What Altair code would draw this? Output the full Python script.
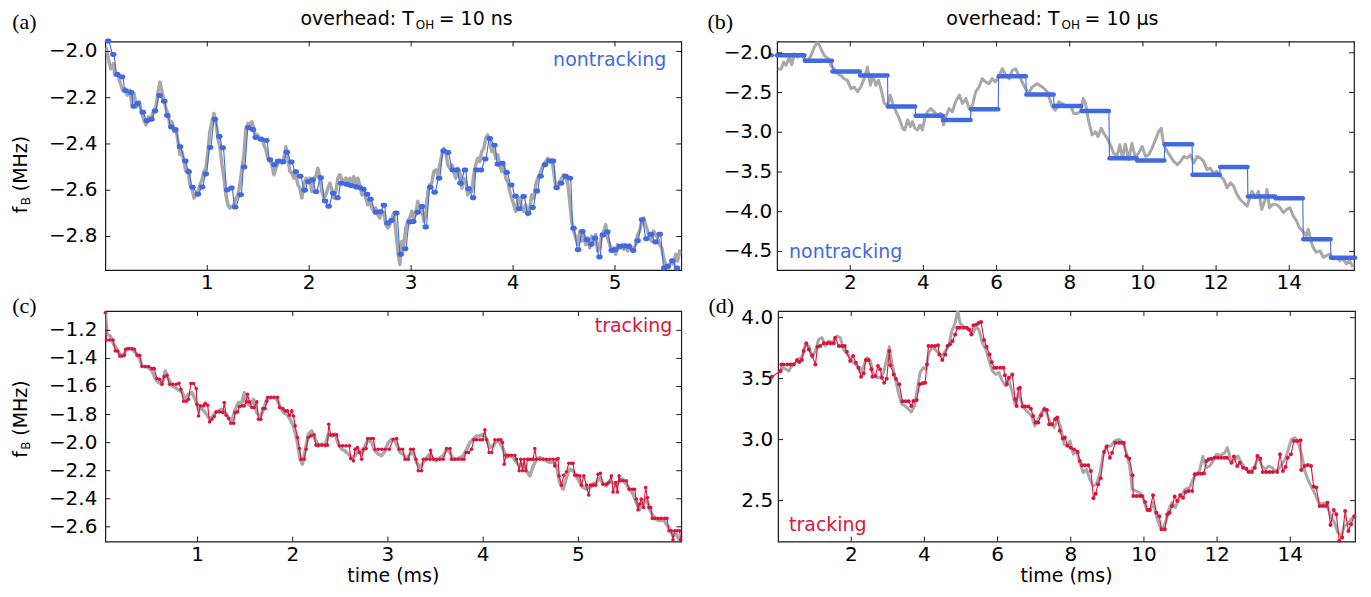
import altair as alt
import pandas as pd

FONT = "DejaVu Sans"
SERIF = "Liberation Serif"
BLUE = "#4169e1"
RED = "#dc143c"
GRAY = "#a8a8a8"
INK = "#1a1a1a"

W_L, W_R = 577, 578
H_T, H_B = 229, 231

# ---------------- tick values ----------------
a_xticks = [1, 2, 3, 4, 5]
a_yticks = [-2.8, -2.6, -2.4, -2.2, -2.0]
b_xticks = [2, 4, 6, 8, 10, 12, 14]
b_yticks = [-4.5, -4.0, -3.5, -3.0, -2.5, -2.0]
c_xticks = [1, 2, 3, 4, 5]
c_yticks = [-2.6, -2.4, -2.2, -2.0, -1.8, -1.6, -1.4, -1.2]
d_xticks = [2, 4, 6, 8, 10, 12, 14]
d_yticks = [2.5, 3.0, 3.5, 4.0]

a_xdom, a_ydom = [0.0, 5.65], [-2.945, -1.957]
b_xdom, b_ydom = [0.0, 15.77], [-4.735, -1.857]
c_xdom, c_ydom = [0.032, 6.08], [-2.705, -1.062]
d_xdom, d_ydom = [0.0, 15.77], [2.164, 4.055]

# ---------------- panel (a): nontracking, T_OH = 10 ns ----------------
a_true = [(0.007,-1.982),(0.03,-2.032),(0.053,-2.075),(0.079,-2.053),(0.095,-2.103),(0.118,-2.096),(0.144,-2.132),(0.17,-2.168),(0.193,-2.161),(0.216,-2.189),(0.242,-2.168),(0.258,-2.225),(0.281,-2.182),(0.307,-2.24),(0.334,-2.218),(0.357,-2.268),(0.379,-2.297),(0.399,-2.318),(0.422,-2.283),(0.445,-2.297),(0.471,-2.261),(0.497,-2.24),(0.52,-2.168),(0.536,-2.132),(0.556,-2.175),(0.575,-2.211),(0.595,-2.247),(0.618,-2.275),(0.634,-2.326),(0.654,-2.304),(0.673,-2.347),(0.693,-2.333),(0.713,-2.39),(0.732,-2.447),(0.752,-2.433),(0.772,-2.476),(0.791,-2.519),(0.811,-2.512),(0.83,-2.577),(0.85,-2.591),(0.87,-2.634),(0.889,-2.62),(0.909,-2.605),(0.928,-2.577),(0.948,-2.555),(0.968,-2.519),(0.987,-2.505),(1.007,-2.433),(1.026,-2.347),(1.046,-2.304),(1.066,-2.268),(1.085,-2.304),(1.105,-2.376),(1.124,-2.412),(1.144,-2.49),(1.164,-2.548),(1.183,-2.62),(1.203,-2.663),(1.222,-2.677),(1.242,-2.67),(1.262,-2.663),(1.281,-2.634),(1.301,-2.62),(1.32,-2.577),(1.34,-2.505),(1.36,-2.447),(1.379,-2.333),(1.399,-2.311),(1.418,-2.318),(1.438,-2.304),(1.458,-2.333),(1.477,-2.376),(1.497,-2.361),(1.516,-2.383),(1.536,-2.376),(1.556,-2.404),(1.575,-2.426),(1.595,-2.462),(1.614,-2.469),(1.634,-2.49),(1.654,-2.533),(1.673,-2.505),(1.693,-2.483),(1.713,-2.469),(1.732,-2.483),(1.752,-2.462),(1.771,-2.412),(1.791,-2.462),(1.811,-2.519),(1.83,-2.526),(1.85,-2.548),(1.869,-2.533),(1.889,-2.577),(1.909,-2.591),(1.928,-2.634),(1.948,-2.577),(1.968,-2.548),(1.987,-2.562),(2.007,-2.548),(2.026,-2.605),(2.046,-2.548),(2.066,-2.541),(2.085,-2.505),(2.105,-2.548),(2.125,-2.605),(2.144,-2.634),(2.164,-2.62),(2.183,-2.591),(2.203,-2.569),(2.223,-2.598),(2.242,-2.634),(2.262,-2.605),(2.281,-2.548),(2.301,-2.533),(2.321,-2.555),(2.34,-2.562),(2.36,-2.548),(2.379,-2.569),(2.399,-2.548),(2.419,-2.577),(2.438,-2.541),(2.458,-2.591),(2.477,-2.548),(2.497,-2.577),(2.517,-2.62),(2.536,-2.605),(2.556,-2.634),(2.575,-2.663),(2.595,-2.648),(2.615,-2.677),(2.634,-2.691),(2.654,-2.677),(2.673,-2.706),(2.693,-2.72),(2.713,-2.691),(2.732,-2.698),(2.752,-2.749),(2.771,-2.763),(2.791,-2.749),(2.811,-2.72),(2.83,-2.698),(2.85,-2.777),(2.873,-2.877),(2.889,-2.921),(2.909,-2.82),(2.928,-2.835),(2.948,-2.763),(2.967,-2.734),(2.987,-2.72),(3.007,-2.691),(3.026,-2.72),(3.046,-2.698),(3.066,-2.648),(3.085,-2.691),(3.105,-2.677),(3.124,-2.734),(3.144,-2.706),(3.164,-2.605),(3.183,-2.577),(3.203,-2.569),(3.222,-2.519),(3.242,-2.512),(3.262,-2.533),(3.281,-2.49),(3.301,-2.447),(3.321,-2.419),(3.34,-2.433),(3.36,-2.49),(3.379,-2.505),(3.399,-2.49),(3.419,-2.519),(3.438,-2.548),(3.458,-2.505),(3.477,-2.519),(3.497,-2.591),(3.516,-2.548),(3.536,-2.562),(3.556,-2.62),(3.575,-2.591),(3.595,-2.605),(3.614,-2.533),(3.634,-2.49),(3.654,-2.462),(3.673,-2.476),(3.693,-2.433),(3.713,-2.419),(3.732,-2.376),(3.752,-2.361),(3.771,-2.39),(3.791,-2.433),(3.811,-2.419),(3.83,-2.462),(3.85,-2.447),(3.869,-2.49),(3.889,-2.519),(3.909,-2.49),(3.928,-2.548),(3.948,-2.562),(3.967,-2.605),(3.987,-2.634),(4.007,-2.663),(4.026,-2.691),(4.046,-2.648),(4.066,-2.634),(4.085,-2.677),(4.105,-2.691),(4.124,-2.663),(4.144,-2.706),(4.164,-2.677),(4.183,-2.62),(4.203,-2.634),(4.222,-2.577),(4.242,-2.548),(4.262,-2.533),(4.281,-2.505),(4.301,-2.49),(4.321,-2.476),(4.34,-2.462),(4.36,-2.476),(4.379,-2.469),(4.399,-2.519),(4.419,-2.591),(4.438,-2.577),(4.458,-2.562),(4.477,-2.548),(4.497,-2.533),(4.517,-2.548),(4.536,-2.569),(4.556,-2.648),(4.575,-2.734),(4.595,-2.777),(4.615,-2.806),(4.634,-2.835),(4.654,-2.777),(4.673,-2.82),(4.693,-2.792),(4.713,-2.835),(4.732,-2.806),(4.752,-2.849),(4.771,-2.799),(4.791,-2.82),(4.811,-2.792),(4.83,-2.863),(4.85,-2.849),(4.87,-2.792),(4.889,-2.777),(4.909,-2.749),(4.928,-2.806),(4.948,-2.835),(4.967,-2.863),(4.987,-2.849),(5.007,-2.877),(5.026,-2.835),(5.046,-2.849),(5.066,-2.835),(5.085,-2.856),(5.105,-2.835),(5.124,-2.863),(5.144,-2.835),(5.164,-2.856),(5.183,-2.849),(5.203,-2.835),(5.222,-2.792),(5.242,-2.777),(5.262,-2.734),(5.281,-2.72),(5.301,-2.749),(5.321,-2.777),(5.34,-2.806),(5.36,-2.82),(5.379,-2.777),(5.399,-2.792),(5.418,-2.806),(5.438,-2.835),(5.458,-2.849),(5.477,-2.892),(5.497,-2.921),(5.516,-2.95),(5.536,-2.921),(5.556,-2.906),(5.575,-2.921),(5.595,-2.877),(5.614,-2.906),(5.634,-2.863),(5.654,-2.877)]

a_est = [(0.02,-1.955),(0.07,-2.013),(0.11,-2.10),(0.157,-2.11),(0.19,-2.17),(0.245,-2.178),(0.27,-2.237),(0.31,-2.225),(0.36,-2.263),(0.40,-2.30),(0.445,-2.293),(0.48,-2.258),(0.524,-2.19),(0.57,-2.215),(0.60,-2.277),(0.64,-2.327),(0.68,-2.339),(0.725,-2.412),(0.777,-2.474),(0.81,-2.52),(0.847,-2.587),(0.90,-2.617),(0.943,-2.586),(0.978,-2.53),(1.02,-2.415),(1.066,-2.293),(1.11,-2.368),(1.144,-2.416),(1.188,-2.599),(1.23,-2.59),(1.266,-2.673),(1.32,-2.619),(1.354,-2.50),(1.397,-2.33),(1.44,-2.337),(1.467,-2.372),(1.52,-2.38),(1.572,-2.385),(1.607,-2.468),(1.65,-2.49),(1.686,-2.475),(1.738,-2.477),(1.773,-2.436),(1.817,-2.478),(1.86,-2.52),(1.904,-2.54),(1.948,-2.60),(1.983,-2.563),(2.026,-2.556),(2.06,-2.606),(2.105,-2.546),(2.148,-2.646),(2.183,-2.669),(2.227,-2.613),(2.27,-2.632),(2.306,-2.57),(2.358,-2.574),(2.40,-2.58),(2.445,-2.584),(2.49,-2.589),(2.524,-2.596),(2.56,-2.617),(2.594,-2.639),(2.646,-2.695),(2.69,-2.693),(2.725,-2.665),(2.76,-2.742),(2.80,-2.731),(2.847,-2.698),(2.89,-2.877),(2.934,-2.853),(2.978,-2.737),(3.013,-2.735),(3.057,-2.695),(3.10,-2.67),(3.135,-2.759),(3.18,-2.587),(3.223,-2.609),(3.266,-2.548),(3.31,-2.43),(3.354,-2.437),(3.40,-2.513),(3.44,-2.513),(3.476,-2.57),(3.52,-2.513),(3.555,-2.594),(3.60,-2.632),(3.633,-2.513),(3.677,-2.513),(3.72,-2.465),(3.764,-2.376),(3.81,-2.405),(3.843,-2.488),(3.886,-2.483),(3.93,-2.523),(3.974,-2.577),(4.017,-2.626),(4.052,-2.68),(4.096,-2.627),(4.14,-2.70),(4.183,-2.675),(4.227,-2.603),(4.262,-2.54),(4.306,-2.49),(4.35,-2.474),(4.384,-2.474),(4.42,-2.589),(4.463,-2.57),(4.507,-2.54),(4.55,-2.548),(4.585,-2.764),(4.63,-2.857),(4.672,-2.778),(4.716,-2.814),(4.76,-2.833),(4.795,-2.807),(4.84,-2.889),(4.873,-2.793),(4.917,-2.78),(4.96,-2.86),(4.996,-2.857),(5.04,-2.843),(5.083,-2.841),(5.127,-2.843),(5.17,-2.86),(5.214,-2.818),(5.258,-2.728),(5.30,-2.81),(5.345,-2.79),(5.39,-2.824),(5.432,-2.79),(5.476,-2.936),(5.51,-2.929),(5.555,-2.905),(5.60,-2.936)]

# ---------------- panel (b): nontracking, T_OH = 10 us ----------------
b_true = [(0.018,-2.20),(0.11,-2.208),(0.18,-2.117),(0.245,-2.158),(0.336,-2.054),(0.40,-2.15),(0.473,-2.013),(0.564,-2.054),(0.655,-2.025),(0.745,-2.075),(0.837,-2.108),(0.927,-2.033),(1.018,-1.929),(1.11,-1.858),(1.2,-1.95),(1.29,-2.033),(1.40,-2.075),(1.47,-2.158),(1.56,-2.2),(1.65,-2.263),(1.74,-2.283),(1.83,-2.325),(1.92,-2.346),(2.02,-2.45),(2.11,-2.43),(2.20,-2.49),(2.29,-2.43),(2.38,-2.325),(2.47,-2.179),(2.55,-2.408),(2.61,-2.283),(2.70,-2.408),(2.77,-2.346),(2.84,-2.45),(2.93,-2.638),(3.02,-2.66),(3.09,-2.533),(3.16,-2.638),(3.25,-2.742),(3.34,-2.825),(3.43,-2.95),(3.49,-2.971),(3.57,-2.846),(3.64,-2.93),(3.70,-2.867),(3.77,-2.95),(3.84,-2.971),(3.91,-2.908),(3.97,-2.971),(4.04,-2.825),(4.11,-2.742),(4.20,-2.70),(4.29,-2.742),(4.38,-2.783),(4.47,-2.763),(4.55,-2.908),(4.61,-2.804),(4.70,-2.70),(4.79,-2.742),(4.88,-2.617),(4.98,-2.533),(5.07,-2.638),(5.16,-2.575),(5.25,-2.70),(5.34,-2.66),(5.43,-2.49),(5.52,-2.43),(5.61,-2.325),(5.70,-2.367),(5.79,-2.388),(5.88,-2.325),(5.97,-2.367),(6.06,-2.304),(6.16,-2.20),(6.25,-2.283),(6.34,-2.325),(6.43,-2.221),(6.52,-2.20),(6.61,-2.283),(6.70,-2.367),(6.79,-2.45),(6.88,-2.513),(6.97,-2.43),(7.11,-2.388),(7.25,-2.43),(7.39,-2.49),(7.52,-2.68),(7.61,-2.721),(7.70,-2.617),(7.79,-2.638),(7.93,-2.68),(8.02,-2.66),(8.11,-2.763),(8.20,-2.763),(8.29,-2.742),(8.37,-2.575),(8.43,-2.638),(8.52,-2.867),(8.61,-3.033),(8.70,-2.992),(8.77,-3.054),(8.86,-2.95),(8.93,-3.013),(9.02,-3.075),(9.11,-3.158),(9.20,-3.263),(9.29,-3.304),(9.37,-3.158),(9.44,-3.325),(9.52,-3.15),(9.61,-3.346),(9.70,-3.138),(9.79,-3.317),(9.88,-3.263),(9.98,-3.179),(10.07,-3.304),(10.16,-3.283),(10.25,-3.20),(10.34,-3.096),(10.43,-2.992),(10.50,-2.95),(10.57,-3.158),(10.66,-3.242),(10.75,-3.304),(10.84,-3.367),(10.94,-3.408),(11.03,-3.367),(11.12,-3.304),(11.21,-3.325),(11.30,-3.283),(11.39,-3.388),(11.48,-3.304),(11.57,-3.325),(11.66,-3.367),(11.75,-3.471),(11.84,-3.45),(11.93,-3.513),(12.02,-3.492),(12.12,-3.554),(12.21,-3.596),(12.30,-3.70),(12.39,-3.638),(12.48,-3.679),(12.57,-3.783),(12.66,-3.846),(12.75,-3.888),(12.85,-3.929),(12.92,-3.825),(12.98,-3.742),(13.07,-3.825),(13.16,-3.742),(13.25,-3.971),(13.33,-3.867),(13.39,-3.721),(13.46,-3.95),(13.55,-3.908),(13.64,-3.908),(13.75,-3.95),(13.84,-4.013),(13.93,-3.971),(14.02,-3.95),(14.11,-4.054),(14.20,-4.117),(14.27,-4.20),(14.37,-4.242),(14.46,-4.304),(14.52,-4.221),(14.58,-4.346),(14.65,-4.45),(14.74,-4.513),(14.84,-4.492),(14.93,-4.575),(15.02,-4.554),(15.11,-4.533),(15.20,-4.596),(15.29,-4.575),(15.38,-4.617),(15.47,-4.596),(15.56,-4.658),(15.65,-4.617),(15.74,-4.70)]

# estimate held over each measurement window: (start, end, value)
b_est = [(0.0,0.745,-2.03),(0.757,1.50,-2.10),(1.514,2.26,-2.235),(2.271,3.02,-2.285),(3.028,3.775,-2.675),(3.785,4.53,-2.792),(4.542,5.29,-2.846),(5.299,6.045,-2.709),(6.056,6.80,-2.295),(6.813,7.56,-2.524),(7.57,8.315,-2.668),(8.327,9.07,-2.733),(9.084,9.83,-3.327),(9.841,10.585,-3.357),(10.598,11.345,-3.152),(11.355,12.10,-3.536),(12.112,12.86,-3.436),(12.869,13.615,-3.808),(13.626,14.37,-3.83),(14.383,15.13,-4.346),(15.14,15.80,-4.581)]
b_pre = (-0.15, -2.03)

# ---------------- panel (c): tracking, T_OH = 10 ns ----------------
c_true = [(0.032,-1.074),(0.05,-1.228),(0.085,-1.24),(0.12,-1.30),(0.155,-1.335),(0.19,-1.383),(0.225,-1.371),(0.26,-1.33),(0.312,-1.335),(0.358,-1.364),(0.393,-1.402),(0.417,-1.454),(0.452,-1.458),(0.487,-1.466),(0.522,-1.489),(0.557,-1.544),(0.592,-1.572),(0.627,-1.584),(0.662,-1.489),(0.697,-1.549),(0.732,-1.596),(0.767,-1.608),(0.802,-1.625),(0.837,-1.639),(0.871,-1.691),(0.906,-1.655),(0.941,-1.644),(0.976,-1.691),(1.011,-1.762),(1.046,-1.757),(1.081,-1.786),(1.116,-1.822),(1.151,-1.822),(1.186,-1.786),(1.221,-1.774),(1.256,-1.762),(1.291,-1.786),(1.326,-1.822),(1.361,-1.845),(1.396,-1.762),(1.431,-1.715),(1.466,-1.715),(1.494,-1.644),(1.518,-1.715),(1.553,-1.738),(1.588,-1.691),(1.623,-1.786),(1.658,-1.822),(1.693,-1.762),(1.728,-1.691),(1.763,-1.679),(1.798,-1.679),(1.833,-1.691),(1.868,-1.743),(1.903,-1.786),(1.938,-1.798),(1.973,-1.833),(2.008,-1.881),(2.043,-1.976),(2.078,-2.118),(2.102,-2.154),(2.13,-2.059),(2.165,-1.94),(2.20,-1.916),(2.235,-1.976),(2.27,-2.023),(2.305,-2.011),(2.34,-2.023),(2.375,-1.94),(2.41,-1.952),(2.445,-1.94),(2.48,-2.011),(2.515,-2.047),(2.55,-2.059),(2.584,-2.082),(2.619,-2.106),(2.654,-2.094),(2.689,-2.047),(2.724,-2.082),(2.759,-2.023),(2.794,-1.976),(2.829,-1.999),(2.864,-2.059),(2.899,-2.082),(2.934,-2.094),(2.969,-2.059),(3.004,-1.999),(3.039,-1.976),(3.074,-1.987),(3.126,-2.07),(3.161,-2.082),(3.196,-2.118),(3.231,-2.082),(3.266,-2.07),(3.301,-2.142),(3.336,-2.177),(3.371,-2.142),(3.406,-2.106),(3.441,-2.082),(3.476,-2.118),(3.511,-2.13),(3.546,-2.106),(3.581,-2.094),(3.616,-2.047),(3.651,-2.07),(3.686,-2.118),(3.721,-2.118),(3.756,-2.106),(3.791,-2.094),(3.826,-2.047),(3.86,-1.999),(3.895,-1.976),(3.93,-1.952),(3.965,-1.952),(4.0,-1.94),(4.035,-1.976),(4.07,-2.035),(4.105,-2.023),(4.14,-1.987),(4.175,-1.999),(4.21,-2.047),(4.245,-2.106),(4.28,-2.094),(4.315,-2.106),(4.35,-2.142),(4.385,-2.166),(4.42,-2.154),(4.455,-2.201),(4.49,-2.237),(4.525,-2.166),(4.56,-2.118),(4.595,-2.106),(4.63,-2.118),(4.665,-2.13),(4.70,-2.142),(4.735,-2.137),(4.77,-2.166),(4.804,-2.284),(4.839,-2.332),(4.874,-2.249),(4.909,-2.189),(4.944,-2.201),(4.979,-2.237),(5.014,-2.284),(5.049,-2.32),(5.084,-2.332),(5.119,-2.32),(5.154,-2.296),(5.189,-2.284),(5.224,-2.249),(5.259,-2.296),(5.294,-2.308),(5.329,-2.272),(5.364,-2.284),(5.399,-2.308),(5.434,-2.261),(5.469,-2.261),(5.504,-2.296),(5.539,-2.332),(5.574,-2.367),(5.608,-2.426),(5.643,-2.474),(5.678,-2.426),(5.713,-2.403),(5.748,-2.474),(5.783,-2.521),(5.818,-2.545),(5.853,-2.557),(5.888,-2.545),(5.923,-2.581),(5.958,-2.616),(5.993,-2.664),(6.028,-2.652),(6.063,-2.699)]

c_est = [(0.032,-1.075),(0.043,-1.269),(0.078,-1.269),(0.113,-1.269),(0.137,-1.347),(0.162,-1.347),(0.183,-1.383),(0.207,-1.383),(0.232,-1.378),(0.246,-1.335),(0.277,-1.33),(0.312,-1.33),(0.337,-1.335),(0.365,-1.378),(0.393,-1.378),(0.417,-1.458),(0.452,-1.458),(0.487,-1.458),(0.522,-1.473),(0.546,-1.473),(0.574,-1.544),(0.602,-1.549),(0.627,-1.584),(0.651,-1.53),(0.679,-1.52),(0.707,-1.584),(0.742,-1.584),(0.777,-1.584),(0.805,-1.577),(0.826,-1.62),(0.854,-1.705),(0.882,-1.705),(0.906,-1.691),(0.931,-1.579),(0.959,-1.579),(0.987,-1.615),(0.994,-1.727),(1.011,-1.81),(1.029,-1.738),(1.064,-1.738),(1.081,-1.719),(1.106,-1.734),(1.127,-1.852),(1.151,-1.833),(1.176,-1.814),(1.197,-1.781),(1.232,-1.781),(1.267,-1.786),(1.281,-1.715),(1.301,-1.805),(1.326,-1.829),(1.35,-1.862),(1.378,-1.862),(1.396,-1.786),(1.42,-1.781),(1.441,-1.743),(1.466,-1.738),(1.49,-1.738),(1.511,-1.71),(1.525,-1.655),(1.546,-1.71),(1.571,-1.75),(1.595,-1.75),(1.623,-1.71),(1.64,-1.833),(1.665,-1.833),(1.686,-1.757),(1.71,-1.757),(1.728,-1.705),(1.738,-1.677),(1.77,-1.677),(1.805,-1.677),(1.84,-1.677),(1.861,-1.75),(1.896,-1.757),(1.92,-1.774),(1.945,-1.774),(1.966,-1.805),(1.99,-1.774),(2.008,-1.81),(2.025,-1.881),(2.05,-1.964),(2.071,-2.042),(2.088,-2.118),(2.12,-2.118),(2.14,-2.047),(2.162,-1.964),(2.19,-1.952),(2.224,-1.945),(2.245,-2.018),(2.27,-2.018),(2.305,-2.018),(2.34,-2.018),(2.364,-2.018),(2.378,-1.869),(2.399,-1.945),(2.427,-1.945),(2.462,-1.945),(2.49,-2.023),(2.525,-2.023),(2.56,-2.023),(2.595,-2.023),(2.609,-2.113),(2.637,-2.13),(2.654,-2.047),(2.679,-2.035),(2.70,-2.07),(2.724,-2.118),(2.742,-2.047),(2.77,-2.042),(2.787,-1.971),(2.819,-1.971),(2.847,-1.971),(2.864,-2.047),(2.899,-2.047),(2.934,-2.047),(2.969,-2.047),(3.014,-2.047),(3.056,-1.976),(3.091,-1.971),(3.119,-2.047),(3.154,-2.047),(3.179,-2.118),(3.214,-2.118),(3.238,-2.047),(3.266,-2.047),(3.294,-2.118),(3.319,-2.201),(3.353,-2.201),(3.371,-2.118),(3.406,-2.118),(3.441,-2.118),(3.448,-2.054),(3.476,-2.118),(3.511,-2.118),(3.546,-2.118),(3.581,-2.118),(3.616,-2.042),(3.651,-2.042),(3.668,-2.118),(3.703,-2.118),(3.738,-2.118),(3.773,-2.118),(3.798,-2.118),(3.819,-2.07),(3.846,-2.07),(3.878,-2.047),(3.902,-1.98),(3.93,-1.98),(3.965,-1.98),(3.993,-1.98),(4.018,-1.909),(4.035,-1.98),(4.063,-2.07),(4.088,-2.07),(4.123,-1.98),(4.158,-1.98),(4.186,-1.98),(4.203,-1.999),(4.221,-2.154),(4.238,-2.09),(4.263,-2.09),(4.297,-2.09),(4.332,-2.09),(4.35,-2.118),(4.378,-2.201),(4.395,-2.118),(4.413,-2.201),(4.43,-2.118),(4.448,-2.201),(4.465,-2.118),(4.483,-2.118),(4.507,-2.118),(4.525,-2.118),(4.542,-2.042),(4.56,-2.118),(4.595,-2.118),(4.63,-2.118),(4.665,-2.118),(4.70,-2.118),(4.735,-2.118),(4.752,-2.166),(4.77,-2.118),(4.787,-2.113),(4.797,-2.237),(4.822,-2.303),(4.846,-2.232),(4.874,-2.208),(4.899,-2.147),(4.927,-2.147),(4.944,-2.147),(4.962,-2.232),(4.986,-2.232),(5.014,-2.237),(5.032,-2.303),(5.056,-2.237),(5.084,-2.303),(5.108,-2.374),(5.126,-2.303),(5.154,-2.303),(5.182,-2.303),(5.206,-2.225),(5.231,-2.218),(5.259,-2.296),(5.294,-2.296),(5.318,-2.284),(5.346,-2.237),(5.364,-2.351),(5.392,-2.284),(5.409,-2.351),(5.427,-2.237),(5.441,-2.272),(5.469,-2.272),(5.504,-2.272),(5.532,-2.332),(5.567,-2.332),(5.591,-2.332),(5.608,-2.403),(5.626,-2.479),(5.643,-2.438),(5.66,-2.403),(5.685,-2.462),(5.706,-2.32),(5.724,-2.391),(5.741,-2.462),(5.759,-2.462),(5.776,-2.54),(5.801,-2.54),(5.836,-2.54),(5.87,-2.54),(5.905,-2.54),(5.93,-2.54),(5.951,-2.628),(5.975,-2.628),(5.993,-2.692),(6.01,-2.628),(6.035,-2.628),(6.063,-2.628),(6.074,-2.692)]

# ---------------- panel (d): tracking, T_OH = 10 us ----------------
d_true = [(0.018,3.544),(0.15,3.59),(0.29,3.563),(0.38,3.604),(0.52,3.645),(0.66,3.686),(0.75,3.781),(0.84,3.768),(0.93,3.672),(1.02,3.727),(1.11,3.823),(1.20,3.836),(1.29,3.768),(1.38,3.809),(1.47,3.795),(1.61,3.85),(1.70,3.836),(1.79,3.74),(1.93,3.686),(2.06,3.631),(2.16,3.604),(2.25,3.549),(2.34,3.604),(2.43,3.672),(2.52,3.645),(2.61,3.535),(2.70,3.508),(2.79,3.508),(2.88,3.549),(2.97,3.658),(3.04,3.762),(3.11,3.631),(3.20,3.508),(3.29,3.385),(3.38,3.29),(3.47,3.276),(3.57,3.249),(3.64,3.227),(3.73,3.276),(3.82,3.44),(3.88,3.549),(3.97,3.59),(4.04,3.577),(4.11,3.699),(4.20,3.754),(4.29,3.74),(4.38,3.713),(4.48,3.686),(4.57,3.727),(4.66,3.768),(4.75,3.891),(4.84,3.959),(4.91,4.06),(4.97,3.959),(5.04,3.932),(5.11,3.918),(5.22,3.904),(5.31,3.863),(5.40,3.918),(5.49,3.904),(5.58,3.795),(5.68,3.74),(5.77,3.645),(5.86,3.563),(5.95,3.535),(6.04,3.549),(6.13,3.481),(6.22,3.44),(6.29,3.508),(6.38,3.413),(6.48,3.29),(6.57,3.385),(6.66,3.303),(6.75,3.249),(6.84,3.222),(6.93,3.194),(7.02,3.112),(7.11,3.167),(7.20,3.222),(7.28,3.262),(7.37,3.194),(7.46,3.126),(7.55,3.099),(7.64,3.167),(7.73,3.099),(7.82,2.96),(7.91,2.95),(7.98,2.99),(8.07,2.88),(8.16,2.907),(8.25,2.811),(8.34,2.729),(8.43,2.757),(8.52,2.675),(8.61,2.62),(8.70,2.634),(8.79,2.716),(8.89,2.88),(8.98,2.948),(9.10,2.948),(9.20,2.989),(9.31,3.003),(9.43,2.975),(9.52,2.893),(9.61,2.784),(9.68,2.593),(9.77,2.579),(9.89,2.566),(9.98,2.524),(10.07,2.429),(10.16,2.415),(10.25,2.484),(10.34,2.374),(10.43,2.292),(10.50,2.265),(10.59,2.32),(10.68,2.429),(10.77,2.484),(10.86,2.443),(10.95,2.511),(11.04,2.552),(11.13,2.593),(11.25,2.607),(11.34,2.675),(11.43,2.716),(11.52,2.743),(11.61,2.861),(11.71,2.77),(11.80,2.784),(11.89,2.825),(11.98,2.88),(12.10,2.872),(12.21,2.893),(12.28,2.934),(12.37,2.839),(12.46,2.825),(12.57,2.866),(12.66,2.811),(12.75,2.77),(12.84,2.743),(12.93,2.743),(13.04,2.784),(13.13,2.866),(13.22,2.784),(13.32,2.757),(13.41,2.784),(13.50,2.77),(13.59,2.743),(13.68,2.757),(13.77,2.798),(13.86,2.839),(13.95,2.921),(14.03,3.003),(14.13,3.016),(14.22,2.975),(14.32,2.866),(14.41,2.729),(14.50,2.661),(14.59,2.607),(14.68,2.552),(14.77,2.484),(14.86,2.47),(14.95,2.484),(15.04,2.429),(15.12,2.361),(15.21,2.32),(15.30,2.238),(15.39,2.21),(15.48,2.292),(15.57,2.306),(15.66,2.347),(15.75,2.374)]

d_est = [(-0.17,3.516),(0.064,3.563),(0.09,3.617),(0.15,3.617),(0.25,3.617),(0.34,3.617),(0.43,3.617),(0.52,3.653),(0.58,3.636),(0.65,3.653),(0.70,3.727),(0.77,3.79),(0.84,3.74),(0.93,3.69),(1.02,3.617),(1.08,3.762),(1.15,3.768),(1.25,3.79),(1.34,3.79),(1.43,3.79),(1.52,3.79),(1.56,3.836),(1.66,3.768),(1.75,3.768),(1.82,3.768),(1.88,3.72),(1.97,3.645),(2.05,3.686),(2.13,3.631),(2.20,3.59),(2.27,3.516),(2.34,3.544),(2.40,3.653),(2.47,3.653),(2.55,3.577),(2.58,3.516),(2.66,3.522),(2.73,3.604),(2.79,3.577),(2.84,3.508),(2.90,3.467),(2.97,3.50),(3.04,3.727),(3.07,3.609),(3.16,3.535),(3.22,3.50),(3.31,3.454),(3.40,3.315),(3.49,3.315),(3.57,3.315),(3.64,3.276),(3.70,3.317),(3.79,3.325),(3.87,3.454),(3.95,3.462),(4.02,3.467),(4.07,3.617),(4.11,3.768),(4.20,3.768),(4.29,3.768),(4.37,3.773),(4.41,3.699),(4.49,3.653),(4.57,3.699),(4.63,3.768),(4.70,3.782),(4.77,3.809),(4.84,3.863),(4.90,3.918),(4.97,3.918),(5.07,3.918),(5.16,3.918),(5.22,3.904),(5.28,3.863),(5.34,3.937),(5.43,3.945),(5.49,3.959),(5.55,3.964),(5.63,3.817),(5.70,3.762),(5.78,3.699),(5.84,3.636),(5.91,3.59),(5.97,3.59),(6.07,3.59),(6.16,3.59),(6.20,3.527),(6.25,3.454),(6.31,3.508),(6.40,3.535),(6.48,3.331),(6.52,3.276),(6.57,3.418),(6.61,3.426),(6.68,3.271),(6.75,3.271),(6.84,3.271),(6.91,3.254),(6.97,3.194),(7.04,3.14),(7.11,3.14),(7.19,3.20),(7.28,3.249),(7.35,3.243),(7.41,3.126),(7.49,3.126),(7.57,3.167),(7.63,3.181),(7.70,3.072),(7.78,3.009),(7.84,3.018),(7.91,2.95),(8.00,2.934),(8.09,2.92),(8.19,2.898),(8.25,2.825),(8.31,2.79),(8.39,2.79),(8.48,2.79),(8.55,2.743),(8.62,2.519),(8.68,2.557),(8.75,2.634),(8.82,2.683),(8.91,2.898),(8.98,2.943),(9.07,2.852),(9.13,2.893),(9.22,2.975),(9.32,2.975),(9.40,2.975),(9.45,2.975),(9.52,2.866),(9.60,2.846),(9.69,2.708),(9.71,2.538),(9.80,2.538),(9.89,2.538),(9.95,2.538),(10.03,2.489),(10.10,2.423),(10.16,2.423),(10.25,2.544),(10.34,2.40),(10.42,2.372),(10.48,2.265),(10.57,2.265),(10.64,2.386),(10.70,2.40),(10.77,2.455),(10.84,2.533),(10.91,2.497),(10.99,2.544),(11.07,2.524),(11.14,2.571),(11.22,2.579),(11.32,2.579),(11.39,2.716),(11.48,2.721),(11.57,2.721),(11.64,2.724),(11.71,2.825),(11.77,2.839),(11.84,2.844),(11.93,2.852),(12.02,2.852),(12.11,2.852),(12.20,2.852),(12.27,2.852),(12.39,2.811),(12.46,2.861),(12.55,2.784),(12.62,2.811),(12.71,2.77),(12.80,2.762),(12.86,2.735),(12.95,2.735),(13.03,2.77),(13.10,2.866),(13.18,2.844),(13.25,2.735),(13.34,2.735),(13.43,2.735),(13.52,2.735),(13.64,2.735),(13.72,2.88),(13.80,2.743),(13.87,2.776),(13.93,2.852),(14.02,2.88),(14.10,2.989),(14.19,2.989),(14.28,2.994),(14.30,2.751),(14.39,2.784),(14.48,2.792),(14.57,2.784),(14.64,2.615),(14.71,2.607),(14.80,2.456),(14.89,2.456),(14.98,2.456),(15.02,2.483),(15.10,2.30),(15.19,2.423),(15.26,2.388),(15.34,2.17),(15.42,2.197),(15.50,2.415),(15.59,2.251),(15.66,2.306),(15.75,2.372)]

A_HOLD = 0.016  # drawn length of each fast (10 ns overhead) estimate marker


# ---------------- helpers ----------------
def text(s, x, y, size, color="black", font=FONT, align="left", baseline="alphabetic", angle=0):
    kw = dict(align=align, baseline=baseline, font=font, fontSize=size, color=color)
    enc = dict(text="s:N", x=alt.value(x), y=alt.value(y))
    if angle:
        kw["angle"] = angle
        enc["angle"] = alt.value(angle)
    return alt.Chart(pd.DataFrame({"s": [s]})).mark_text(**kw).encode(**enc)


def tick_labels(H, xs, ys, xticks, yticks, ypad):
    xl = pd.DataFrame({"t": xticks, "s": [str(int(t)) for t in xticks]})
    yl = pd.DataFrame({"v": yticks, "s": [f"{v:.1f}".replace("-", "\u2212") for v in yticks]})
    xlab = alt.Chart(xl).mark_text(font=FONT, fontSize=20, color="black", align="center",
                                   baseline="top").encode(
        x=alt.X("t:Q", scale=xs, axis=None), y=alt.value(H + 3), text="s:N")
    ylab = alt.Chart(yl).mark_text(font=FONT, fontSize=20, color="black", align="right",
                                   baseline="middle").encode(
        y=alt.Y("v:Q", scale=ys, axis=None), x=alt.value(-ypad), text="s:N")
    return [xlab, ylab]


def inner_ticks(W, H, xs, ys, xticks, yticks):
    yt = pd.DataFrame({"v": yticks})
    xt = pd.DataFrame({"t": xticks})
    L = 5
    out = []
    for x1, x2 in [(0, L), (W - L, W)]:
        out.append(alt.Chart(yt).mark_rule(color=INK, strokeWidth=1).encode(
            y=alt.Y("v:Q", scale=ys, axis=None), x=alt.value(x1), x2=alt.value(x2)))
    for y1, y2 in [(0, L), (H - L, H)]:
        out.append(alt.Chart(xt).mark_rule(color=INK, strokeWidth=1).encode(
            x=alt.X("t:Q", scale=xs, axis=None), y=alt.value(y1), y2=alt.value(y2)))
    return out


def seg_layers(segs, color, bar_w, xs, ys, pre=None):
    sdf = pd.DataFrame(segs, columns=["t", "t2", "v"])
    path = [pre] if pre else []
    for t1, t2, v in segs:
        path += [(t1, v), (t2, v)]
    pdf = pd.DataFrame(path, columns=["t", "v"])
    pdf["i"] = range(len(pdf))
    thin = alt.Chart(pdf).mark_line(color=color, strokeWidth=1.1, clip=False).encode(
        x=alt.X("t:Q", scale=xs, axis=None), y=alt.Y("v:Q", scale=ys, axis=None), order="i:Q")
    bars = alt.Chart(sdf).mark_rule(color=color, strokeWidth=bar_w, strokeCap="round", clip=False).encode(
        x=alt.X("t:Q", scale=xs, axis=None), x2="t2:Q", y=alt.Y("v:Q", scale=ys, axis=None))
    out = [thin, bars]
    if pre:
        out.append(alt.Chart(pd.DataFrame([pre], columns=["t", "v"])).mark_circle(
            color=color, size=22, opacity=1, clip=False).encode(
            x=alt.X("t:Q", scale=xs, axis=None), y=alt.Y("v:Q", scale=ys, axis=None)))
    return out


def dot_layers(pts, color, size, xs, ys):
    df = pd.DataFrame(pts, columns=["t", "v"])
    df["i"] = range(len(df))
    line = alt.Chart(df).mark_line(color=color, strokeWidth=1.1, clip=False).encode(
        x=alt.X("t:Q", scale=xs, axis=None), y=alt.Y("v:Q", scale=ys, axis=None), order="i:Q")
    dots = alt.Chart(df).mark_circle(color=color, size=size, opacity=1, clip=False).encode(
        x=alt.X("t:Q", scale=xs, axis=None), y=alt.Y("v:Q", scale=ys, axis=None))
    return [line, dots]


def panel(W, H, xdom, ydom, xticks, yticks, truth, gray_w, est_fn, ypad, texts):
    xs = alt.Scale(domain=xdom, nice=False, zero=False)
    ys = alt.Scale(domain=ydom, nice=False, zero=False)
    tdf = pd.DataFrame(truth, columns=["t", "v"])
    tdf["i"] = range(len(tdf))
    gray = alt.Chart(tdf).mark_line(color=GRAY, strokeWidth=gray_w, clip=True, strokeJoin="round").encode(
        x=alt.X("t:Q", scale=xs, axis=None),
        y=alt.Y("v:Q", scale=ys, axis=None),
        order="i:Q")
    layers = ([gray] + est_fn(xs, ys) + inner_ticks(W, H, xs, ys, xticks, yticks)
              + tick_labels(H, xs, ys, xticks, yticks, ypad) + texts)
    return alt.layer(*layers).properties(width=W, height=H)


def ytitle(fy, by, my):
    return [text("f", -84, fy, 19, angle=270, baseline="middle"),
            text("B", -79, by, 12, angle=270, baseline="middle"),
            text("(MHz)", -84, my, 19, angle=270, baseline="middle")]


def title(xr, unit):
    return [text("overhead: T", xr, -17, 19, align="right"),
            text("OH", xr + 2, -13, 12),
            text("= 10 " + unit, xr + 25, -17, 19)]


a_segs = [(t, t + A_HOLD, v) for t, v in a_est]

pa = panel(W_L, H_T, a_xdom, a_ydom, a_xticks, a_yticks, a_true, 3.5,
           lambda xs, ys: seg_layers(a_segs, BLUE, 5, xs, ys), 8,
           title(309, "ns") + ytitle(172, 164, 150) + [
               text("(a)", -81, -20, 22, font=SERIF, align="center", baseline="middle"),
               text("nontracking", 562, 24.5, 19, color=BLUE, align="right")])

pb = panel(W_R, H_T, b_xdom, b_ydom, b_xticks, b_yticks, b_true, 3,
           lambda xs, ys: seg_layers(b_est, BLUE, 4.5, xs, ys, pre=b_pre), 5,
           title(283, "μs") + [
               text("(b)", -57, -20, 22, font=SERIF, align="center", baseline="middle"),
               text("nontracking", 12, 217, 19, color=BLUE)])

pc = panel(W_L, H_B, c_xdom, c_ydom, c_xticks, c_yticks, c_true, 3.5,
           lambda xs, ys: dot_layers(c_est, RED, 13, xs, ys), 8,
           ytitle(147, 139, 125) + [
               text("(c)", -81, -5, 22, font=SERIF, align="center", baseline="middle"),
               text("tracking", 568, 21, 19, color=RED, align="right"),
               text("time (ms)", W_L / 2, H_B + 26, 19, align="center", baseline="top")])

pdd = panel(W_R, H_B, d_xdom, d_ydom, d_xticks, d_yticks, d_true, 3,
            lambda xs, ys: dot_layers(d_est, RED, 16, xs, ys), 5,
            [text("(d)", -57, -5, 22, font=SERIF, align="center", baseline="middle"),
             text("tracking", 11, 220, 19, color=RED),
             text("time (ms)", W_R / 2, H_B + 26, 19, align="center", baseline="top")])

top = alt.hconcat(pa, pb, spacing=23)
bottom = alt.hconcat(pc, pdd, spacing=23)

chart = alt.vconcat(top, bottom, spacing=0).properties(
    padding={"left": 3.5, "top": 0, "right": 5, "bottom": 5},
    background="white",
).configure_view(stroke=INK, strokeWidth=1.2)

chart.save("out.html", embed_options={"renderer": "svg", "actions": False})
